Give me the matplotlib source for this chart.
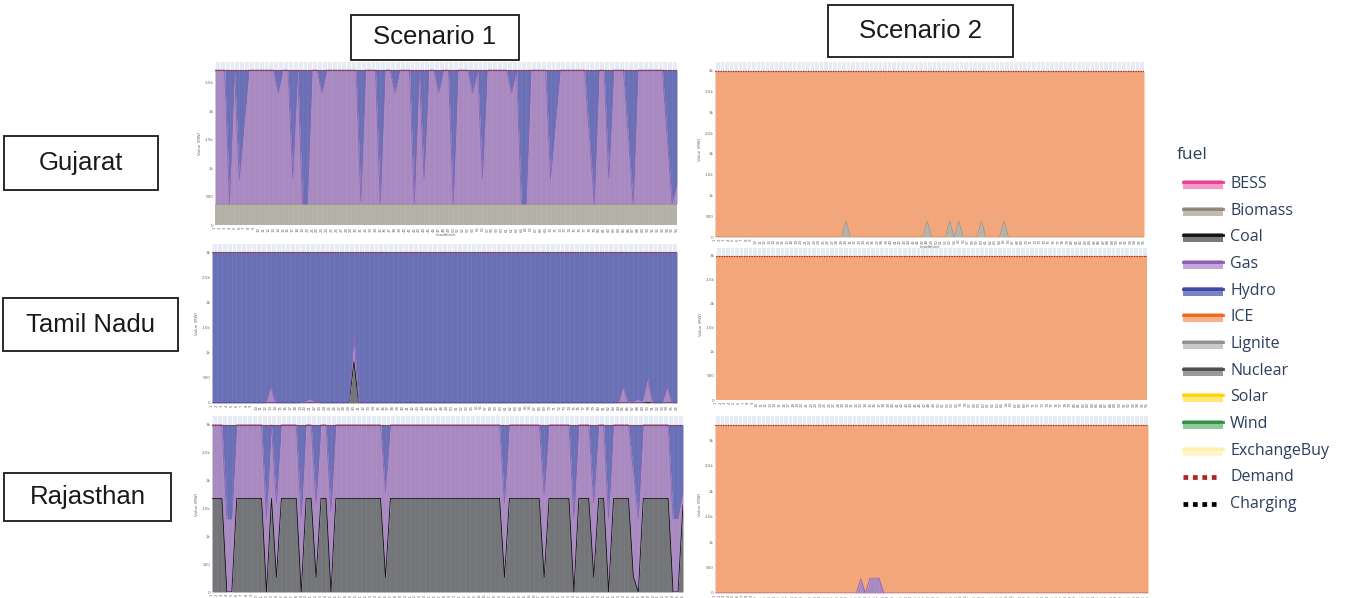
import matplotlib
matplotlib.use("Agg")
import matplotlib.pyplot as plt
from matplotlib.patches import Rectangle
from matplotlib.lines import Line2D
import numpy as np

W, H = 1359, 598
BLOCKS = list(range(1, 97))

# ---------------- Scenario 1 ----------------
# Gujarat: biomass base, gas, hydro on top (MW)
GJ_S1_DEMAND = 2720
GJ_S1_BIOMASS = 370
GJ_S1_HYDRO = {4: 2350, 6: 1920, 7: 960, 14: 400, 17: 1900, 19: 2350, 20: 2350,
               23: 400, 31: 2300, 35: 2350, 38: 400, 42: 2350, 44: 1900, 47: 400,
               50: 2350, 54: 400, 56: 1900, 62: 400, 64: 2350, 65: 2350, 70: 1900,
               71: 950, 78: 1175, 79: 2350, 82: 1900, 86: 1175, 87: 2350, 94: 1200,
               95: 2350, 96: 2000}

# Tamil Nadu: coal, gas, hydro (MW)
TN_S1_DEMAND = 3000
TN_S1_COAL = {30: 815, 90: 10}
TN_S1_GAS = {13: 318, 20: 30, 21: 80, 22: 30, 30: 495, 85: 318, 86: 15, 87: 25,
             88: 70, 89: 30, 90: 470, 94: 318}

# Rajasthan: coal plateau with dips, gas, hydro (MW)
RJ_S1_DEMAND = 3000
RJ_S1_COAL_BASE = 1680
RJ_S1_COAL = {4: 0, 5: 0, 12: 0, 14: 267, 19: 0, 22: 267, 25: 0, 36: 267, 60: 267,
              68: 267, 74: 0, 78: 267, 81: 0, 86: 267, 87: 0, 94: 0, 95: 0, 96: 1560}
RJ_S1_HYDRO = {4: 1690, 5: 1690, 12: 1675, 14: 1400, 19: 1675, 22: 1400, 25: 1550,
               36: 1200, 60: 1400, 68: 1250, 74: 1680, 78: 1400, 81: 1680, 86: 845,
               87: 1680, 94: 1680, 95: 1680, 96: 1200}

# ---------------- Scenario 2 ----------------
GJ_S2_DEMAND = 4000
GJ_S2_BIOMASS = {30: 385, 48: 385, 53: 385, 55: 385, 60: 385, 65: 385}

TN_S2_DEMAND = 3000

RJ_S2_DEMAND = 3300
RJ_S2_GAS = {33: 275, 35: 290, 36: 290, 37: 290}

# fill colour, edge colour
COLORS = {
    'Biomass': ('#B4B1A9', '#9C968A'),
    'Coal': ('#737578', '#111111'),
    'Gas': ('#A88AC1', '#8C62B6'),
    'Hydro': ('#6A70B5', '#4F57AC'),
    'ICE': ('#F2A67A', '#F08A4E'),
}

LEGEND = [
    ('BESS', '#EE3A92', '#F49AC6'),
    ('Biomass', '#8F8676', '#C2BBB0'),
    ('Coal', '#111111', '#7A7A7A'),
    ('Gas', '#8A5CB5', '#C1A7DA'),
    ('Hydro', '#3A47A0', '#7A83C6'),
    ('ICE', '#F2651F', '#F7B08A'),
    ('Lignite', '#8E8E8E', '#C8C8C8'),
    ('Nuclear', '#4A4A4A', '#9A9A9A'),
    ('Solar', '#FFD400', '#FFE680'),
    ('Wind', '#2F8F3F', '#8FC89A'),
    ('ExchangeBuy', '#FFF0A8', '#FFF6CC'),
]
DOTTED = [('Demand', '#B22222'), ('Charging', '#000000')]


def series(events, base=0.0):
    return np.array([events.get(b, base) for b in BLOCKS], dtype=float)


def const(v):
    return np.full(len(BLOCKS), float(v))


def kfmt(v):
    if v == 0:
        return '0'
    if v < 1000:
        return str(int(v))
    s = f'{v / 1000:g}'
    return s + 'k'


fig = plt.figure(figsize=(W / 100, H / 100), dpi=100)
fig.patch.set_facecolor('white')


def px_rect(x0, x1, yt, yb):
    return [x0 / W, 1 - yb / H, (x1 - x0) / W, (yb - yt) / H]


def panel(rect, layers, demand, step, xlabel=False):
    ax = fig.add_axes(px_rect(*rect))
    ax.set_facecolor('#E5ECF6')
    n = len(BLOCKS)
    x = np.arange(n)
    ax.set_xlim(0, n - 1)
    ax.set_ylim(0, demand * 1.053)
    for xi in x:
        ax.axvline(xi, color='white', lw=0.6, zorder=1)
    ticks = np.arange(0, demand * 1.0001 + 1, step)
    for t in ticks:
        ax.axhline(t, color='white', lw=0.6, zorder=1)
    base = np.zeros(n)
    for name, vals in layers:
        fill, edge = COLORS[name]
        top = base + vals
        ax.fill_between(x, base, top, color=fill, lw=0, zorder=2)
        ax.plot(x, top, color=edge, lw=0.6, zorder=3)
        base = top
    for xi in x:
        ax.axvline(xi, color='white', lw=0.5, alpha=0.06, zorder=3.5)
    ax.plot(x, const(demand), color='#B22222', ls=(0, (1, 1)), lw=0.9, zorder=4)
    ax.set_xticks(x)
    ax.set_xticklabels([str(b) for b in BLOCKS], rotation=90, fontsize=2.8,
                       color='#6b6b6b')
    ax.set_yticks(ticks)
    ax.set_yticklabels([kfmt(t) for t in ticks], fontsize=3, color='#6b6b6b')
    ax.tick_params(length=0, pad=1.2)
    ax.set_ylabel('Value (MW)', fontsize=3, color='#6b6b6b', labelpad=2)
    if xlabel:
        ax.set_xlabel('Loadblock', fontsize=3, color='#6b6b6b', labelpad=1)
    for s in ax.spines.values():
        s.set_visible(False)
    return ax


# Scenario 1 column
gj1_bio = const(GJ_S1_BIOMASS)
gj1_hyd = series(GJ_S1_HYDRO)
gj1_gas = const(GJ_S1_DEMAND) - gj1_bio - gj1_hyd
panel((215, 677, 62, 225), [('Biomass', gj1_bio), ('Gas', gj1_gas), ('Hydro', gj1_hyd)],
      GJ_S1_DEMAND, 500, xlabel=True)

tn1_coal = series(TN_S1_COAL)
tn1_gas = series(TN_S1_GAS)
tn1_hyd = const(TN_S1_DEMAND) - tn1_coal - tn1_gas
panel((212, 677, 244, 403), [('Coal', tn1_coal), ('Gas', tn1_gas), ('Hydro', tn1_hyd)],
      TN_S1_DEMAND, 500)

rj1_coal = series(RJ_S1_COAL, RJ_S1_COAL_BASE)
rj1_hyd = series(RJ_S1_HYDRO)
rj1_gas = const(RJ_S1_DEMAND) - rj1_coal - rj1_hyd
panel((212, 683, 416, 592), [('Coal', rj1_coal), ('Gas', rj1_gas), ('Hydro', rj1_hyd)],
      RJ_S1_DEMAND, 500)

# Scenario 2 column
gj2_bio = series(GJ_S2_BIOMASS)
gj2_ice = const(GJ_S2_DEMAND) - gj2_bio
panel((715, 1144, 62, 237), [('Biomass', gj2_bio), ('ICE', gj2_ice)],
      GJ_S2_DEMAND, 500, xlabel=True)

panel((716, 1147, 248, 400), [('ICE', const(TN_S2_DEMAND))], TN_S2_DEMAND, 500)

rj2_gas = series(RJ_S2_GAS)
rj2_ice = const(RJ_S2_DEMAND) - rj2_gas
panel((715, 1148, 416, 593), [('Gas', rj2_gas), ('ICE', rj2_ice)], RJ_S2_DEMAND, 500)


# Boxed row / column headers
def boxed(text, x0, y0, x1, y1):
    fig.add_artist(Rectangle((x0 / W, 1 - y1 / H), (x1 - x0) / W, (y1 - y0) / H,
                             transform=fig.transFigure, fill=True, fc='white',
                             ec='#1a1a1a', lw=1.3))
    fig.text((x0 + x1) / 2 / W, 1 - (y0 + y1) / 2 / H, text, ha='center', va='center',
             fontsize=18.5, family='Liberation Sans', color='#1a1a1a')


boxed('Scenario 1', 351, 15, 519, 60)
boxed('Scenario 2', 828, 5, 1013, 57)
boxed('Gujarat', 4, 136, 158, 190)
boxed('Tamil Nadu', 3, 298, 178, 351)
boxed('Rajasthan', 4, 473, 171, 521)

# Legend
LEG_TXT = '#2A3F5F'
fig.text(1177 / W, 1 - 155 / H, 'fuel', ha='left', va='center', fontsize=12.5,
         family='Open Sans', color=LEG_TXT)
row0, dy = 184, 26.67
sw0, sw1, tx = 1183, 1223, 1230
for i, (name, line_c, fill_c) in enumerate(LEGEND):
    y = row0 + i * dy
    fig.add_artist(Rectangle((sw0 / W, 1 - (y + 5) / H), (sw1 - sw0) / W, 9 / H,
                             transform=fig.transFigure, fc=fill_c, ec='none'))
    fig.add_artist(Line2D([sw0 / W, sw1 / W], [1 - (y - 2) / H, 1 - (y - 2) / H],
                          transform=fig.transFigure, color=line_c, lw=2.0))
    fig.text(tx / W, 1 - y / H, name, ha='left', va='center', fontsize=11.5,
             family='Open Sans', color=LEG_TXT)
for j, (name, c) in enumerate(DOTTED):
    y = row0 + (len(LEGEND) + j) * dy
    fig.add_artist(Line2D([sw0 / W, (sw0 + 36) / W], [1 - y / H, 1 - y / H],
                          transform=fig.transFigure, color=c, lw=3.4,
                          ls=(0, (1, 1)), solid_capstyle='butt', dash_capstyle='butt'))
    fig.text(tx / W, 1 - y / H, name, ha='left', va='center', fontsize=11.5,
             family='Open Sans', color=LEG_TXT)

fig.savefig('out.png', dpi=100, facecolor='white')
